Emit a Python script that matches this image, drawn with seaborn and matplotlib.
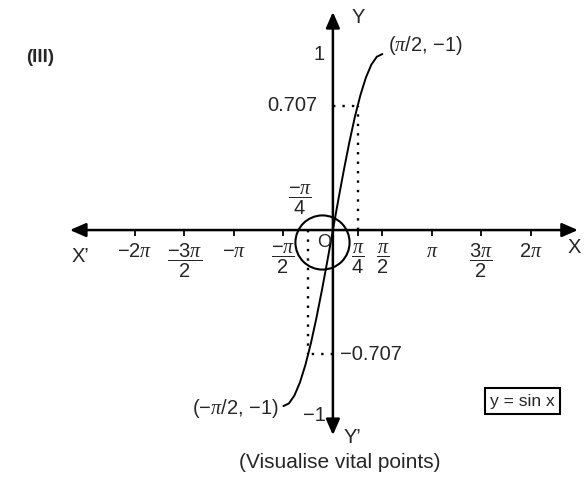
import numpy as np
import matplotlib
matplotlib.use("Agg")
import matplotlib.pyplot as plt
import seaborn as sns

# vital points of y = sin x, read at 10 degree steps
curve_deg = [-90, -80, -70, -60, -50, -40, -30, -20, -10, 0,
             10, 20, 30, 40, 50, 60, 70, 80, 90]
curve_y = [-1, -0.985, -0.940, -0.866, -0.766, -0.643, -0.5, -0.342, -0.174, 0,
           0.174, 0.342, 0.5, 0.643, 0.766, 0.866, 0.940, 0.985, 1]

# x axis ticks (multiples of pi) and their labels
xtick_pi = [-2, -1.5, -1, -0.5, 0.25, 0.5, 1, 1.5, 2]
xtick_labels = [r"$-2\pi$", r"$\dfrac{-3\pi}{2}$", r"$-\pi$", r"$\dfrac{-\pi}{2}$",
                r"$\dfrac{\pi}{4}$", r"$\dfrac{\pi}{2}$", r"$\pi$",
                r"$\dfrac{3\pi}{2}$", r"$2\pi$"]

# marked points on the curve
mark_x_pi = [0.25, -0.25]
mark_y = [0.707, -0.707]

sns.set_theme(style="white")
plt.rcParams["font.family"] = ["Liberation Sans", "DejaVu Sans"]
plt.rcParams["mathtext.fontset"] = "custom"
plt.rcParams["mathtext.rm"] = "Liberation Sans"
plt.rcParams["mathtext.it"] = "Liberation Serif:italic"
plt.rcParams["mathtext.sf"] = "Liberation Sans"

fs = 14.5

fig = plt.figure(figsize=(5.88, 4.8), dpi=100)
ax = fig.add_axes([0, 0, 1, 1])
ax.set_xlim(-10.57, 8.10)
ax.set_ylim(-1.42, 1.307)

# axes with arrows
arrow = dict(arrowstyle="<|-|>,head_length=0.8,head_width=0.35", lw=1.8,
             color="black", shrinkA=0, shrinkB=0, mutation_scale=12)
ax.annotate("", xy=(7.78, 0), xytext=(-8.35, 0), arrowprops=arrow)
ax.annotate("", xy=(0, 1.239), xytext=(0, -1.165), arrowprops=arrow)

for s in ax.spines.values():
    s.set_visible(False)
ax.spines["bottom"].set_position(("data", 0))
ax.set_xticks(np.array(xtick_pi) * np.pi, xtick_labels)
ax.tick_params(axis="x", direction="out", length=4.5, width=1.3, color="black",
               labelsize=fs, pad=4, bottom=True)
ax.set_yticks([])
ax.grid(False)

# the curve
sns.lineplot(x=np.deg2rad(curve_deg), y=curve_y, color="black", lw=1.4, ax=ax)

# dotted guide lines
for xp, yv in zip(mark_x_pi, mark_y):
    xv = xp * np.pi
    ax.plot([xv, xv], [0, yv], ls=(0, (1, 3)), color="black", lw=1.7)
    ax.plot([0, xv], [yv, yv], ls=(0, (1, 3)), color="black", lw=1.7)

# circle round the origin
ax.plot([-0.35], [-0.068], marker="o", ms=39, mfc="none", mec="black", mew=1.5)
ax.text(-0.29, -0.068, "O", fontsize=13, ha="center", va="center")

# value labels
ax.text(-0.25, 1.0, "1", fontsize=fs, ha="right", va="center")
ax.text(-0.48, 0.707, "0.707", fontsize=fs, ha="right", va="center")
ax.text(0.22, -0.707, "\u22120.707", fontsize=fs, ha="left", va="center")
ax.text(-0.6, -1.051, "\u22121", fontsize=fs, ha="center", va="center")
ax.text(1.75, 1.051, r"($\pi$/2, $-$1)", fontsize=fs, ha="left", va="center")
ax.text(-1.72, -1.011, r"($-\pi$/2, $-$1)", fontsize=fs, ha="right", va="center")
ax.text(-1.05, 0.17, r"$\dfrac{-\pi}{4}$", fontsize=fs, ha="center", va="center")

# axis names
ax.text(7.65, -0.097, "X", fontsize=fs, ha="center", va="center")
ax.text(-8.03, -0.153, "X\u2019", fontsize=fs, ha="center", va="center")
ax.text(0.8, 1.21, "Y", fontsize=fs, ha="center", va="center")
ax.text(0.62, -1.176, "Y\u2019", fontsize=fs, ha="center", va="center")

ax.text(6.03, -0.972, "y = sin x", fontsize=12.5, ha="center", va="center",
        bbox=dict(boxstyle="square,pad=0.3", fc="white", ec="black", lw=1.5))

fig.text(0.068, 0.881, "(III)", fontsize=13.5, fontweight="bold", ha="center", va="center")
fig.text(0.578, 0.0375, "(Visualise vital points)", fontsize=15, ha="center", va="center")

fig.savefig("out.png", dpi=100)
